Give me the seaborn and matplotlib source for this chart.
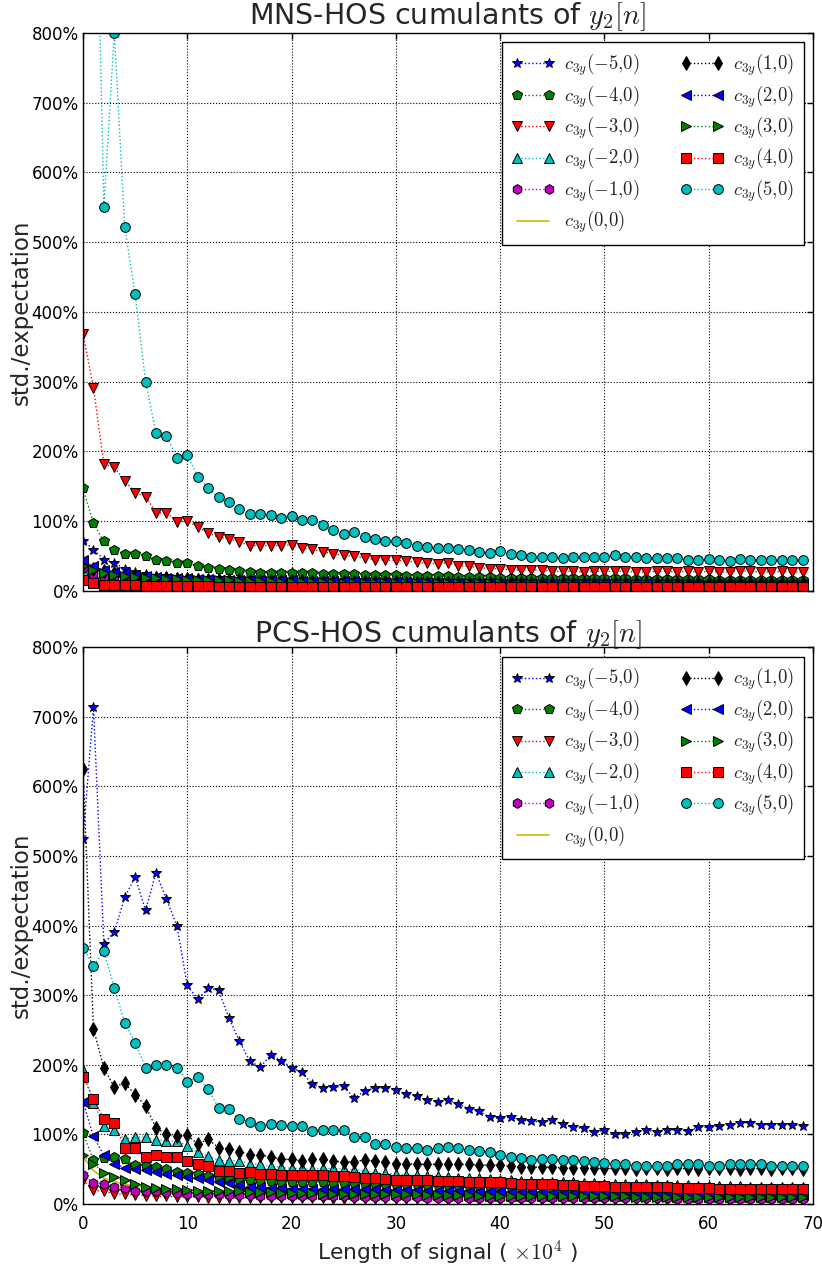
import matplotlib
matplotlib.use("Agg")
import matplotlib.pyplot as plt
import seaborn as sns
import numpy as np
from matplotlib.ticker import PercentFormatter, MultipleLocator

# ---------------- data ----------------
x = list(range(70))
labels = [r'$c_{3y}(-5{,}0)$', r'$c_{3y}(-4{,}0)$', r'$c_{3y}(-3{,}0)$', r'$c_{3y}(-2{,}0)$',
          r'$c_{3y}(-1{,}0)$', r'$c_{3y}(0{,}0)$', r'$c_{3y}(1{,}0)$', r'$c_{3y}(2{,}0)$',
          r'$c_{3y}(3{,}0)$', r'$c_{3y}(4{,}0)$', r'$c_{3y}(5{,}0)$']

# MNS-HOS (top panel), values in %
mns_m5 = [72,59,45,40,32,27,24,22,21,20, 19,19,18,18,18,17,17,17,17,16, 16,16,16,15,15,15,15,15,14,14,
          14,14,14,13,13,13,13,13,13,12, 12,12,12,12,12,12,12,12,11,11, 11,11,11,11,11,11,11,11,11,11,
          11,10,10,10,10,10,10,10,10,10]
mns_m4 = [147,97,71,59,53,53,50,45,43,40, 40,36,33,32,30,28,27,26,26,26, 26,25,25,24,24,24,24,23,23,23,
          23,22,22,22,21,21,20,20,20,20, 19,19,19,19,19,19,18,18,18,18, 18,18,18,17,17,17,17,17,17,17,
          17,16,16,16,16,16,16,16,16,16]
mns_m3 = [369,291,182,177,158,141,135,112,112,99, 100,92,83,77,75,70,65,65,65,65, 66,61,60,56,53,51,50,47,45,44,
          44,43,41,40,39,40,36,35,33,32, 32,30,30,30,30,28,28,28,27,28, 28,28,28,27,27,28,28,27,28,27,
          28,27,27,29,28,27,27,28,27,27]
mns_m2 = [30,26,23,21,19,18,17,16,15,15, 14,14,14,13,13,13,12,12,12,12, 12,11,11,11,11,11,11,11,10,10,
          10,10,10,10,10,10,10,10,9,9, 9,9,9,9,9,9,9,9,9,9, 9,9,9,9,8,8,8,8,8,8,
          8,8,8,8,8,8,8,8,8,8]
mns_m1 = [33,24,20,18,16,14,13,12,12,11, 11,10,10,10,9,9,9,9,9,9, 8,8,8,8,8,8,8,8,8,7,
          7,7,7,7,7,7,7,7,7,7, 7,7,7,7,7,7,6,6,6,6, 6,6,6,6,6,6,6,6,6,6,
          6,6,6,6,6,6,6,6,6,6]
mns_0 = [9,7,6,5,5,5,4,4,4,4, 4,4,4,4,4,4,4,4,4,4, 4,4,3,3,3,3,3,3,3,3,
         3,3,3,3,3,3,3,3,3,3, 3,3,3,3,3,3,3,3,3,3, 3,3,3,3,3,3,3,3,3,3,
         3,3,3,3,3,3,3,3,3,3]
mns_p1 = [38,32,28,25,23,21,20,19,18,17, 17,16,16,15,15,15,14,14,14,14, 14,14,13,13,13,13,13,13,13,13,
          13,12,12,12,12,12,12,12,12,12, 12,12,12,12,12,12,12,11,11,11, 11,11,11,11,11,11,11,11,11,11,
          11,11,11,11,11,11,11,11,11,11]
mns_p2 = [44,35,30,27,25,23,21,20,19,18, 18,17,17,16,16,16,15,15,15,15, 15,14,14,14,14,14,14,13,13,13,
          13,13,13,13,12,12,12,12,12,12, 12,12,12,11,11,11,11,11,11,11, 11,11,11,11,11,10,10,10,10,10,
          10,10,10,10,10,10,10,10,10,10]
mns_p3 = [36,30,26,23,21,20,19,18,17,17, 16,16,15,15,15,14,14,14,14,13, 13,13,13,13,12,12,12,12,12,12,
          12,11,11,11,11,11,11,11,11,11, 11,10,10,10,10,10,10,10,10,10, 10,10,10,10,10,10,10,10,10,9,
          9,9,9,9,9,9,9,9,9,9]
mns_p4 = [15,11,8,8,9,8,7,7,7,7, 7,7,7,6,6,6,6,6,6,6, 6,6,6,6,6,6,6,6,6,6,
          6,5,5,5,5,5,5,5,5,5, 5,5,5,5,5,5,5,5,5,5, 5,5,5,5,5,5,5,5,5,5,
          5,5,5,5,5,5,5,5,5,5]
mns_p5 = [1500,1230,550,800,522,425,300,226,222,191, 195,164,147,134,127,118,110,110,109,105, 108,102,102,95,88,82,84,77,74,71,
          71,69,64,63,62,62,60,59,56,54, 57,53,52,49,49,48,47,48,48,49, 49,51,49,48,47,47,47,47,44,44,
          46,44,43,46,45,44,44,44,44,44]

# PCS-HOS (bottom panel), values in %
pcs_m5 = [524,714,374,391,441,470,422,476,438,400, 314,294,310,307,267,234,205,197,214,206, 196,189,172,167,168,169,152,162,167,167,
          164,158,155,149,147,150,143,137,133,125, 123,125,120,119,118,120,115,110,109,103, 106,100,101,103,106,104,107,106,105,110,
          110,112,114,117,117,114,114,114,114,112]
pcs_m4 = [102,63,66,68,64,56,54,53,50,46, 44,43,40,38,36,35,34,33,33,32, 32,31,31,31,30,30,30,29,29,29,
          28,28,28,27,27,27,26,26,26,25, 25,25,24,24,24,23,23,23,23,22, 22,22,22,21,21,21,21,20,20,20,
          20,20,20,19,19,19,19,19,19,19]
pcs_m3 = [34,20,18,15,14,13,12,11,11,10, 10,10,9,9,9,9,9,8,8,8, 8,8,8,8,7,7,7,7,7,7,
          7,7,7,7,7,6,6,6,6,6, 6,6,6,6,6,6,6,6,6,6, 6,5,5,5,5,5,5,5,5,5,
          5,5,5,5,5,5,5,5,5,5]
pcs_m2 = [193,145,112,106,93,96,96,92,91,90, 84,74,69,63,62,62,58,57,54,53, 51,51,50,51,51,50,49,48,44,44,
          43,42,41,40,40,39,38,38,37,36, 35,34,33,33,32,32,31,31,30,30, 29,29,28,28,28,27,27,27,27,26,
          26,26,26,26,25,25,25,25,25,25]
pcs_m1 = [42,30,29,24,23,19,19,18,17,16, 15,15,14,14,13,13,13,12,12,12, 12,11,11,11,11,11,10,10,10,10,
          10,10,10,9,9,9,9,9,9,9, 9,9,9,8,8,8,8,8,8,8, 8,8,8,8,8,8,8,7,7,7,
          7,7,7,7,7,7,7,7,7,7]
pcs_0 = [68,48,37,32,28,26,24,23,22,21, 20,20,19,19,19,18,18,18,18,17, 17,17,17,17,16,16,16,16,16,16,
         16,15,15,15,15,15,15,15,15,15, 14,14,14,14,14,14,14,14,13,13, 13,13,13,13,13,13,13,13,12,12,
         12,12,12,12,12,12,12,12,12,12]
pcs_p1 = [625,252,195,168,174,157,141,109,101,97, 99,86,93,81,79,75,71,70,68,64, 64,62,64,64,62,60,61,63,62,60,
          58,58,57,57,57,57,57,57,56,56, 56,54,53,53,53,53,52,51,52,51, 51,51,51,50,51,51,50,51,51,50,
          51,51,51,50,51,51,50,51,51,50]
pcs_p2 = [147,97,70,58,52,50,49,46,43,42, 39,37,34,32,30,27,25,24,23,23, 22,22,22,22,21,21,21,21,21,20,
          20,20,20,19,19,19,19,18,18,18, 18,17,17,17,17,16,16,16,16,16, 15,15,15,15,15,15,14,14,14,14,
          14,14,14,14,13,13,13,13,13,13]
pcs_p3 = [70,58,44,39,34,28,25,23,22,21, 20,19,19,18,18,18,17,17,17,16, 16,16,16,15,15,15,15,15,14,14,
          14,14,14,13,13,13,13,13,12,12, 12,12,12,12,11,11,11,11,11,11, 11,11,11,10,10,10,10,10,10,10,
          10,10,10,10,10,10,10,10,10,10]
pcs_p4 = [183,151,122,116,81,80,68,70,68,68, 62,58,54,48,48,45,46,43,43,42, 42,42,41,41,40,40,39,38,37,36,
          35,35,34,34,33,33,33,32,32,31, 31,30,29,29,28,28,27,27,26,26, 26,25,25,25,24,24,24,23,23,23,
          23,22,22,22,22,22,22,21,21,21]
pcs_p5 = [368,342,363,311,260,232,196,199,199,196, 176,182,165,138,136,122,118,112,115,114, 112,112,105,107,107,106,96,96,86,86,
          82,80,80,78,81,82,80,78,76,74, 71,67,66,63,64,65,63,63,62,60, 59,57,57,54,54,54,55,57,57,57,
          54,55,57,57,57,57,55,55,55,55]

mns = [mns_m5, mns_m4, mns_m3, mns_m2, mns_m1, mns_0, mns_p1, mns_p2, mns_p3, mns_p4, mns_p5]
pcs = [pcs_m5, pcs_m4, pcs_m3, pcs_m2, pcs_m1, pcs_0, pcs_p1, pcs_p2, pcs_p3, pcs_p4, pcs_p5]

# ---------------- styles ----------------
colors = [(0, 0, 1), (0, 0.5, 0), (1, 0, 0), (0, 0.75, 0.75), (0.75, 0, 0.75), (0.75, 0.75, 0),
          (0, 0, 0), (0, 0, 1), (0, 0.5, 0), (1, 0, 0), (0, 0.75, 0.75)]
markers = ['*', 'p', 'v', '^', 'h', None, 'd', '<', '>', 's', 'o']

sns.set_style("white")
plt.rcParams.update({
    'font.family': ['DejaVu Sans'],
    'mathtext.fontset': 'cm',
    'xtick.direction': 'in', 'ytick.direction': 'in',
    'xtick.top': True, 'ytick.right': True,
    'xtick.major.size': 4, 'ytick.major.size': 4,
    'axes.edgecolor': 'black', 'axes.linewidth': 1.0,
})

fig = plt.figure(figsize=(8.22, 12.68), dpi=100)
ax1 = fig.add_axes([0.101, 0.534, 0.888, 0.440])
ax2 = fig.add_axes([0.101, 0.0505, 0.888, 0.439])


def draw(ax, data, title):
    for vals, lab, c, m in zip(data, labels, colors, markers):
        if m is None:
            sns.lineplot(x=x, y=vals, ax=ax, color=c, linestyle='-', linewidth=1.2,
                         label=lab, legend=False)
        else:
            sns.lineplot(x=x, y=vals, ax=ax, color=c, linestyle=':', linewidth=1.0,
                         marker=m, markersize=7, markeredgecolor='k', markeredgewidth=0.7,
                         label=lab, legend=False)
    ax.set_xlim(0, 70)
    ax.set_ylim(0, 800)
    ax.xaxis.set_major_locator(MultipleLocator(10))
    ax.yaxis.set_major_locator(MultipleLocator(100))
    ax.yaxis.set_major_formatter(PercentFormatter(xmax=100, decimals=0))
    ax.grid(True, color='black', linestyle=':', linewidth=0.8)
    ax.tick_params(labelsize=12, colors='black', width=1)
    ax.tick_params(axis='x', pad=8)
    ax.tick_params(axis='y', pad=3)
    ax.set_ylabel('std./expectation', fontsize=16.5, labelpad=-1)
    ax.set_title(title, fontsize=20.5, pad=4)
    handles, labs = ax.get_legend_handles_labels()
    leg = ax.legend(handles, labs, loc='upper right', ncol=2, fontsize=13.5, numpoints=2,
                    fancybox=False, framealpha=1, edgecolor='black', handlelength=2.3,
                    columnspacing=2.2, labelspacing=0.27, handletextpad=0.5, borderpad=0.5)
    leg.get_frame().set_linewidth(1.0)
    for sp in ax.spines.values():
        sp.set_visible(True)
        sp.set_color('black')


draw(ax1, mns, 'MNS-HOS cumulants of $y_2[n]$')
draw(ax2, pcs, 'PCS-HOS cumulants of $y_2[n]$')
ax1.tick_params(labelbottom=False)
ax1.set_xlabel('')
ax2.set_xlabel(r'Length of signal ( $\times 10^4$ )', fontsize=15.7, labelpad=4)

fig.savefig('out.png', dpi=100)
